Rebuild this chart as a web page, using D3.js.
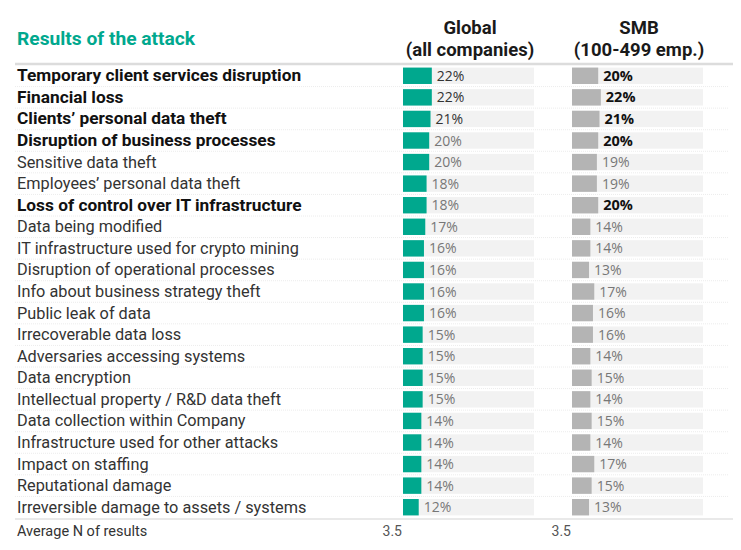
<!DOCTYPE html>
<html>
<head>
<meta charset="utf-8">
<script src="https://cdn.jsdelivr.net/npm/d3@7"></script>
<style>
  body { margin: 0; background: #fff; }
  svg { display: block; font-family: Roboto, 'Noto Sans', sans-serif; }
</style>
</head>
<body>
<div class="svg-container"></div>
<script>
const categories = [
  'Temporary client services disruption',
  'Financial loss',
  'Clients\u2019 personal data theft',
  'Disruption of business processes',
  'Sensitive data theft',
  'Employees\u2019 personal data theft',
  'Loss of control over IT infrastructure',
  'Data being modified',
  'IT infrastructure used for crypto mining',
  'Disruption of operational processes',
  'Info about business strategy theft',
  'Public leak of data',
  'Irrecoverable data loss',
  'Adversaries accessing systems',
  'Data encryption',
  'Intellectual property / R&D data theft',
  'Data collection within Company',
  'Infrastructure used for other attacks',
  'Impact on staffing',
  'Reputational damage',
  'Irreversible damage to assets / systems'
]
const globalValues = [22, 22, 21, 20, 20, 18, 18, 17, 16, 16, 16, 16, 15, 15, 15, 15, 14, 14, 14, 14, 12]
const smbValues = [20, 22, 21, 20, 19, 19, 20, 14, 14, 13, 17, 16, 16, 14, 15, 14, 15, 14, 17, 15, 13]
const highlighted = [0, 1, 2, 3, 6]
const columnTitles = [['Global', '(all companies)'], ['SMB', '(100-499 emp.)']]
const averageN = ['3.5', '3.5']

const width = 741
const height = 550
const teal = '#00a88e'
const grey = '#b4b4b4'

const svg = d3.select('.svg-container')
  .append('svg')
  .attr('width', width)
  .attr('height', height)

const y = d3.scaleBand(d3.range(categories.length), [65, 518]).paddingInner(0.24).paddingOuter(0.12)
const x = d3.scaleLinear([0, 100], [0, 131])
const columns = [
  { x0: 403, values: globalValues, color: teal, strong: (i) => i < 3, bold: () => false },
  { x0: 572, values: smbValues, color: grey, strong: (i) => highlighted.includes(i), bold: (i) => highlighted.includes(i) }
]

// title + column headers
svg.append('text')
  .attr('x', 17).attr('y', 45)
  .attr('fill', teal)
  .style('font-size', '19.2px').style('font-weight', 700)
  .text('Results of the attack')

columnTitles.forEach((lines, c) => {
  const cx = columns[c].x0 + 67
  lines.forEach((t, k) => {
    svg.append('text')
      .attr('x', cx).attr('y', 34 + k * 21.5)
      .attr('text-anchor', 'middle')
      .attr('fill', '#1a1a1a')
      .style('font-size', '18.5px').style('font-weight', 700)
      .text(t)
  })
})

// row separators
const step = y.step()
svg.append('g')
  .selectAll('line')
  .data(d3.range(1, categories.length))
  .join('line')
  .attr('x1', 15).attr('x2', 728)
  .attr('y1', (i) => y(i) - (step - y.bandwidth()) / 2)
  .attr('y2', (i) => y(i) - (step - y.bandwidth()) / 2)
  .attr('stroke', '#ececec')
  .attr('stroke-dasharray', '1 1')

svg.append('line')
  .attr('x1', 15).attr('x2', 733).attr('y1', 64).attr('y2', 64)
  .attr('stroke', '#dcdcdc').attr('stroke-width', 2.5)
svg.append('line')
  .attr('x1', 15).attr('x2', 733).attr('y1', 519).attr('y2', 519)
  .attr('stroke', '#e2e2e2').attr('stroke-width', 1.5)

// category labels
svg.append('g')
  .selectAll('text')
  .data(categories)
  .join('text')
  .attr('x', 17)
  .attr('y', (d, i) => y(i) + y.bandwidth() / 2 + 5.5)
  .attr('fill', (d, i) => highlighted.includes(i) ? '#111' : '#333')
  .style('font-size', (d, i) => highlighted.includes(i) ? '17.3px' : '16.3px')
  .style('font-weight', (d, i) => highlighted.includes(i) ? 700 : 400)
  .text((d) => d)

// bars
columns.forEach((col) => {
  const g = svg.append('g').attr('transform', `translate(${col.x0}, 0)`)

  g.selectAll('.bg')
    .data(col.values)
    .join('rect')
    .classed('bg', true)
    .attr('x', 0)
    .attr('y', (d, i) => y(i))
    .attr('width', x(100))
    .attr('height', y.bandwidth())
    .attr('fill', '#f2f2f2')

  g.selectAll('.bar')
    .data(col.values)
    .join('rect')
    .classed('bar', true)
    .attr('x', 0)
    .attr('y', (d, i) => y(i))
    .attr('width', (d) => x(d))
    .attr('height', y.bandwidth())
    .attr('fill', col.color)

  g.selectAll('.val')
    .data(col.values)
    .join('text')
    .classed('val', true)
    .attr('x', (d) => x(d) + 5)
    .attr('y', (d, i) => y(i) + y.bandwidth() / 2 + 5)
    .attr('fill', (d, i) => col.bold(i) ? '#111' : col.strong(i) ? '#333' : '#777')
    .style('font-family', "'Open Sans', sans-serif")
    .style('font-size', (d, i) => col.bold(i) ? '14.5px' : '14px')
    .style('font-weight', (d, i) => col.bold(i) ? 700 : 400)
    .text((d) => d + '%')
})

// footer
svg.append('text')
  .attr('x', 17).attr('y', 536)
  .attr('fill', '#333')
  .style('font-size', '14.5px')
  .text('Average N of results')

averageN.forEach((v, c) => {
  svg.append('text')
    .attr('x', columns[c].x0 - 1).attr('y', 536)
    .attr('text-anchor', 'end')
    .attr('fill', '#555')
    .style('font-size', '14px')
    .text(v)
})
</script>
</body>
</html>
